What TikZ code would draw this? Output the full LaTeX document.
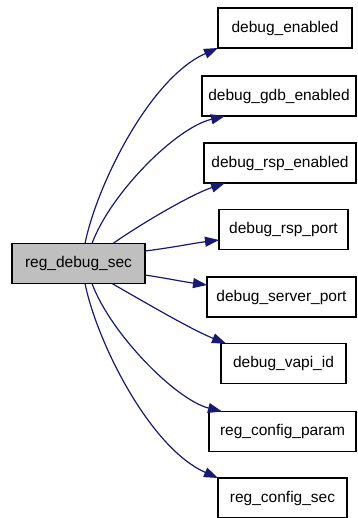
\documentclass[tikz,border=0pt]{standalone}
\usepackage{fontspec}
\setmainfont{Liberation Sans}
\usepackage{tikz}
\usetikzlibrary{positioning,calc,arrows.meta}
\definecolor{callblue}{RGB}{25,25,112}
\definecolor{boxgrey}{RGB}{191,191,191}

\begin{document}
\begin{tikzpicture}[x=1pt,y=1pt,every node/.style={font=\fontsize{15.5}{18}\selectfont}]
  \tikzstyle{fn}=[draw, line width=1.3pt, minimum height=40pt, inner sep=0pt, outer sep=0pt]
  \tikzstyle{call}=[draw=callblue, line width=1.2pt, -{Triangle[length=14pt,width=10pt]}, color=callblue]
  \useasboundingbox (0,0) rectangle (357,-518);
  \node[fn, fill=boxgrey, minimum width=133pt] (main) at (78.5,-263.5) {reg\_debug\_sec};
  \node[fn, minimum width=134pt] (enabled) at (285,-28) {debug\_enabled};
  \node[fn, minimum width=154pt] (gdb) at (279,-96) {debug\_gdb\_enabled};
  \node[fn, minimum width=152pt] (rspen) at (280,-163) {debug\_rsp\_enabled};
  \node[fn, minimum width=129pt] (rspport) at (283.5,-229.5) {debug\_rsp\_port};
  \node[fn, minimum width=149pt] (server) at (281.5,-297) {debug\_server\_port};
  \node[fn, minimum width=125pt] (vapi) at (283.5,-363.5) {debug\_vapi\_id};
  \node[fn, minimum width=147pt] (param) at (282.5,-431.5) {reg\_config\_param};
  \node[fn, minimum width=129pt] (sec) at (282.5,-498) {reg\_config\_sec};
  % calls
  \draw[call] ([xshift=6.5pt]main.north) .. controls +(12,59) and +(-68,-30) .. (enabled.south west);
  \draw[call] ([xshift=13.5pt]main.north) .. controls +(18,49) and +(-50,-12) .. ([xshift=23pt]gdb.south west);
  \draw[call] ([xshift=34.5pt]main.north) .. controls +(27,19) and +(-35,-12) .. ([xshift=21pt]rspen.south west);
  \draw[call] ([yshift=12.5pt]main.east) .. controls +(25,3) and +(-24,-3) .. ([yshift=-10.5pt]rspport.west);
  \draw[call] ([yshift=-11.5pt]main.east) .. controls +(20,-3) and +(-22,3) .. ([yshift=12pt]server.west);
  \draw[call] ([xshift=33.5pt]main.south) .. controls +(28,-16) and +(-35,14) .. ([xshift=5pt]vapi.north west);
  \draw[call] ([xshift=13.5pt]main.south) .. controls +(18,-49) and +(-47,12) .. ([xshift=13pt]param.north west);
  \draw[call] ([xshift=6.5pt]main.south) .. controls +(12,-59) and +(-68,30) .. (sec.north west);
\end{tikzpicture}
\end{document}
